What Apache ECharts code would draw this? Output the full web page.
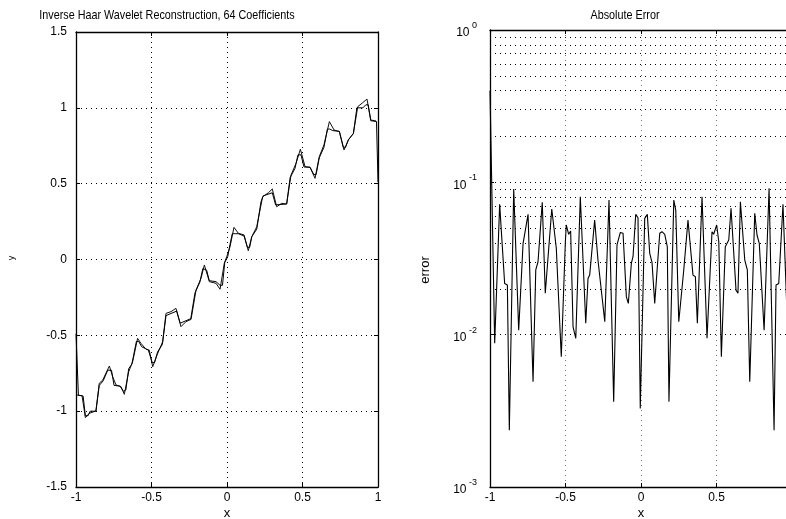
<!DOCTYPE html>
<html>
<head>
<meta charset="utf-8">
<script src="https://cdn.jsdelivr.net/npm/echarts@6/dist/echarts.min.js"></script>
<style>
html,body{margin:0;padding:0;background:#fff;}
#chart{width:786px;height:519px;}
</style>
</head>
<body>
<div id="chart"></div>
<script>
// ---- data ----
const xTicks = [-1, -0.5, 0, 0.5, 1];
const xRightMax = 0.96;               // right panel is cut by the picture edge
const yTicksLeft = [-1.5, -1, -0.5, 0, 0.5, 1, 1.5];
const logTicks = [0.001, 0.01, 0.1, 1];
const logMinor = [0.002,0.003,0.004,0.005,0.006,0.007,0.008,0.009,
                  0.02,0.03,0.04,0.05,0.06,0.07,0.08,0.09,
                  0.2,0.3,0.4,0.5,0.6,0.7,0.8,0.9];

// original function (left plot)
const origX = [-1, -0.96, -0.938, -0.912, -0.868, -0.846, -0.823, -0.779, -0.757, -0.735, -0.702, -0.68, -0.651, -0.625, -0.592, -0.57, -0.536, -0.515, -0.492, -0.459, -0.426, -0.404, -0.371, -0.338, -0.305, -0.272, -0.238, -0.205, -0.172, -0.15, -0.117, -0.073, -0.046, -0.018, -0.002, 0.02, 0.046, 0.075, 0.113, 0.141, 0.164, 0.197, 0.236, 0.274, 0.3, 0.329, 0.362, 0.395, 0.424, 0.457, 0.486, 0.517, 0.55, 0.583, 0.611, 0.642, 0.678, 0.709, 0.744, 0.775, 0.804, 0.837, 0.866, 0.899, 0.927, 0.952, 0.987];
const origY = [-0.893, -0.898, -1.043, -1.014, -0.999, -0.816, -0.795, -0.702, -0.773, -0.827, -0.838, -0.889, -0.74, -0.674, -0.52, -0.553, -0.592, -0.597, -0.707, -0.619, -0.542, -0.355, -0.344, -0.322, -0.443, -0.41, -0.395, -0.201, -0.124, -0.036, -0.146, -0.157, -0.196, -0.025, 0.018, 0.084, 0.212, 0.173, 0.162, 0.058, 0.15, 0.216, 0.414, 0.44, 0.465, 0.348, 0.37, 0.366, 0.557, 0.634, 0.727, 0.612, 0.608, 0.535, 0.678, 0.755, 0.909, 0.854, 0.843, 0.722, 0.788, 0.832, 1.008, 1.034, 1.058, 0.92, 0.913];

// Haar reconstruction (left plot)
const reconX = [-1, -0.984, -0.953, -0.938, -0.92, -0.906, -0.868, -0.846, -0.82, -0.79, -0.765, -0.748, -0.709, -0.685, -0.67, -0.651, -0.63, -0.6, -0.585, -0.565, -0.521, -0.495, -0.48, -0.46, -0.428, -0.404, -0.333, -0.31, -0.24, -0.212, -0.18, -0.16, -0.135, -0.117, -0.073, -0.046, -0.03, -0.015, 0.005, 0.02, 0.035, 0.055, 0.075, 0.113, 0.135, 0.15, 0.164, 0.197, 0.225, 0.24, 0.3, 0.322, 0.395, 0.418, 0.45, 0.47, 0.49, 0.51, 0.55, 0.575, 0.59, 0.611, 0.642, 0.665, 0.68, 0.7, 0.744, 0.77, 0.785, 0.804, 0.837, 0.86, 0.9, 0.92, 0.935, 0.952, 0.99, 1.0];
const reconY = [-0.49, -0.895, -0.9, -1.03, -1.03, -1.0, -1.0, -0.83, -0.8, -0.73, -0.73, -0.83, -0.835, -0.87, -0.86, -0.72, -0.69, -0.54, -0.54, -0.575, -0.597, -0.68, -0.68, -0.61, -0.56, -0.37, -0.34, -0.42, -0.39, -0.22, -0.15, -0.06, -0.07, -0.14, -0.146, -0.17, -0.17, -0.02, 0.02, 0.10, 0.17, 0.17, 0.17, 0.155, 0.08, 0.08, 0.15, 0.2, 0.38, 0.42, 0.44, 0.36, 0.366, 0.54, 0.6, 0.69, 0.69, 0.61, 0.608, 0.56, 0.56, 0.67, 0.74, 0.86, 0.86, 0.85, 0.845, 0.74, 0.74, 0.79, 0.83, 1.0, 1.0, 1.02, 1.02, 0.915, 0.91, 0.51];

// absolute error (right plot)
const errX = [-1, -0.969, -0.936, -0.903, -0.885, -0.872, -0.843, -0.81, -0.781, -0.748, -0.715, -0.697, -0.682, -0.654, -0.634, -0.621, -0.591, -0.561, -0.528, -0.501, -0.495, -0.479, -0.466, -0.45, -0.432, -0.402, -0.366, -0.351, -0.34, -0.307, -0.285, -0.24, -0.212, -0.181, -0.159, -0.137, -0.119, -0.097, -0.084, -0.064, -0.053, -0.035, -0.02, -0.005, 0.0046, 0.0245, 0.0417, 0.0576, 0.0728, 0.0907, 0.124, 0.139, 0.157, 0.174, 0.185, 0.217, 0.23, 0.25, 0.283, 0.311, 0.344, 0.36, 0.373, 0.404, 0.437, 0.47, 0.481, 0.501, 0.515, 0.532, 0.558, 0.581, 0.596, 0.629, 0.642, 0.658, 0.687, 0.704, 0.72, 0.753, 0.768, 0.783, 0.815, 0.848, 0.881, 0.894, 0.912, 0.94, 0.974, 1.0];
const errY = [0.40, 0.0088, 0.0717, 0.0217, 0.0212, 0.00236, 0.0904, 0.0107, 0.0398, 0.0616, 0.00491, 0.0266, 0.0301, 0.0739, 0.0187, 0.0191, 0.0668, 0.0369, 0.00716, 0.0407, 0.0525, 0.0456, 0.0479, 0.01127, 0.00946, 0.0804, 0.01188, 0.0234, 0.0246, 0.0565, 0.0309, 0.01216, 0.0765, 0.00363, 0.0388, 0.0469, 0.0463, 0.0177, 0.01605, 0.0294, 0.0325, 0.0616, 0.0586, 0.00328, 0.00328, 0.058, 0.0616, 0.0342, 0.0298, 0.01605, 0.0463, 0.0474, 0.0456, 0.0378, 0.00363, 0.0765, 0.0658, 0.01216, 0.0266, 0.0565, 0.0246, 0.024, 0.01188, 0.0804, 0.00946, 0.0474, 0.0456, 0.0525, 0.0407, 0.00716, 0.0378, 0.0418, 0.0675, 0.0196, 0.0187, 0.0746, 0.0309, 0.0266, 0.00491, 0.0626, 0.0451, 0.0398, 0.0107, 0.0914, 0.00236, 0.0212, 0.0217, 0.0717, 0.0088, 0.40];

// ---- chart ----
const FONT = '"Liberation Sans", Arial, sans-serif';
const zip = (a, b) => a.map((v, i) => [v, b[i]]);
const dotted = (c) => ({ show: true, lineStyle: { color: c, width: 1, type: [1, 4] } });
const tick = { show: true, inside: true, length: 4, lineStyle: { color: '#000' } };
const axLine = { show: true, onZero: false, lineStyle: { color: '#000', width: 1.3 } };
const xFmt = (v) => (xTicks.indexOf(v) >= 0 ? String(v) : '');

const chart = echarts.init(document.getElementById('chart'), null, { renderer: 'canvas' });

const option = {
  animation: false,
  backgroundColor: '#fff',
  grid: [
    { left: 76, top: 32, width: 302, height: 455 },
    { left: 490, top: 30, right: 0, height: 457 }
  ],
  xAxis: [
    { gridIndex: 0, type: 'value', min: xTicks[0], max: xTicks[xTicks.length - 1], interval: 0.5, position: 'bottom',
      axisLine: axLine, axisTick: tick, splitLine: dotted('#000'),
      axisLabel: { color: '#000', fontSize: 12, fontFamily: FONT, margin: 5, formatter: xFmt } },
    { gridIndex: 0, type: 'value', min: -1, max: 1, interval: 0.5, position: 'top',
      axisLine: axLine, axisTick: tick, splitLine: { show: false }, axisLabel: { show: false } },
    { gridIndex: 1, type: 'value', min: xTicks[0], max: xRightMax, interval: 0.5, position: 'bottom',
      axisLine: axLine, axisTick: tick, splitLine: dotted('#777'),
      axisLabel: { color: '#000', fontSize: 12, fontFamily: FONT, margin: 5, formatter: xFmt, showMaxLabel: false } },
    { gridIndex: 1, type: 'value', min: -1, max: xRightMax, interval: 0.5, position: 'top',
      axisLine: axLine, axisTick: tick, splitLine: { show: false }, axisLabel: { show: false } }
  ],
  yAxis: [
    { gridIndex: 0, type: 'value', min: yTicksLeft[0], max: yTicksLeft[yTicksLeft.length - 1], interval: 0.5, position: 'left',
      axisLine: axLine, axisTick: tick, splitLine: dotted('#000'),
      axisLabel: { color: '#000', fontSize: 12, fontFamily: FONT, margin: 9 } },
    { gridIndex: 0, type: 'value', min: -1.5, max: 1.5, interval: 0.5, position: 'right',
      axisLine: axLine, axisTick: tick, splitLine: { show: false }, axisLabel: { show: false } },
    { gridIndex: 1, type: 'log', logBase: 10, min: logTicks[0], max: logTicks[logTicks.length - 1], position: 'left',
      axisLine: axLine, axisTick: tick, splitLine: dotted('#000'),
      axisLabel: {
        margin: 13,
        formatter: (v) => '{b|10}{s| ' + Math.round(Math.log10(v)) + '}',
        rich: {
          b: { fontSize: 12, fontFamily: FONT, color: '#000', lineHeight: 18, verticalAlign: 'bottom' },
          s: { fontSize: 9, fontFamily: FONT, color: '#000', lineHeight: 18, verticalAlign: 'top' }
        }
      } }
  ],
  series: [
    { type: 'line', xAxisIndex: 2, yAxisIndex: 2, data: [], silent: true, z: 1,
      markLine: { silent: true, symbol: ['none', 'none'], label: { show: false },
        lineStyle: { color: '#000', width: 1, type: [1, 4] },
        data: logMinor.map(v => ({ yAxis: v })) } },
    { name: 'f', type: 'line', xAxisIndex: 0, yAxisIndex: 0, data: zip(origX, origY),
      showSymbol: false, symbol: 'none', lineStyle: { color: '#111', width: 1 }, z: 3 },
    { name: 'recon', type: 'line', xAxisIndex: 0, yAxisIndex: 0, data: zip(reconX, reconY),
      showSymbol: false, symbol: 'none', lineStyle: { color: '#000', width: 1 }, z: 4 },
    { name: 'error', type: 'line', xAxisIndex: 2, yAxisIndex: 2, data: zip(errX, errY),
      showSymbol: false, symbol: 'none', clip: true, lineStyle: { color: '#000', width: 1.1 }, z: 4 }
  ],
  graphic: [
    { type: 'text', x: 167, y: 15, scaleX: 0.83, style: { text: 'Inverse Haar Wavelet Reconstruction, 64 Coefficients', font: '13px ' + FONT, fill: '#000', textAlign: 'center', textVerticalAlign: 'middle' } },
    { type: 'text', x: 625, y: 15, scaleX: 0.83, style: { text: 'Absolute Error', font: '13px ' + FONT, fill: '#000', textAlign: 'center', textVerticalAlign: 'middle' } },
    { type: 'text', x: 227, y: 513, style: { text: 'x', font: '13px ' + FONT, fill: '#000', textAlign: 'center', textVerticalAlign: 'middle' } },
    { type: 'text', x: 641, y: 513, style: { text: 'x', font: '13px ' + FONT, fill: '#000', textAlign: 'center', textVerticalAlign: 'middle' } },
    { type: 'text', x: 12, y: 258, rotation: Math.PI / 2, style: { text: 'y', font: '9px ' + FONT, fill: '#000', textAlign: 'center', textVerticalAlign: 'middle' } },
    { type: 'text', x: 425, y: 270, rotation: Math.PI / 2, style: { text: 'error', font: '13px ' + FONT, fill: '#000', textAlign: 'center', textVerticalAlign: 'middle' } }
  ]
};
chart.setOption(option);
</script>
</body>
</html>
